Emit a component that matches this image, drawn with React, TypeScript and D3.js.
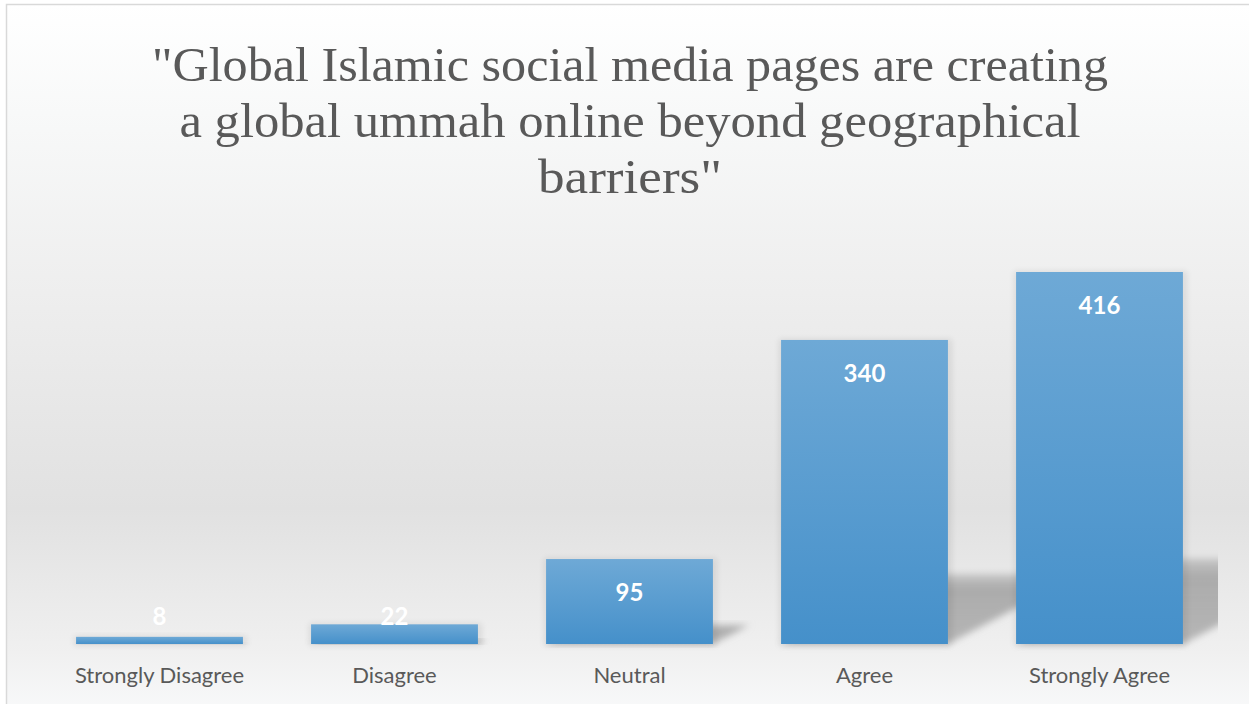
import React from "react";
import * as d3 from "d3";

const categories = ["Strongly Disagree", "Disagree", "Neutral", "Agree", "Strongly Agree"];
const values = [8, 22, 95, 340, 416];
const titleLines = [
  "\"Global Islamic social media pages are creating",
  "a global ummah online beyond geographical",
  "barriers\"",
];
const titleWidths = [956, 901, 184];

const W = 1249;
const H = 704;

export default function App() {
  const x = d3.scaleBand<string>().domain(categories).range([42, 1217]).paddingInner(0.29).paddingOuter(0.145);
  const y = d3.scaleLinear().domain([0, 450]).range([644, 241.6]);
  const base = y(0);

  return (
    <div style={{ position: "absolute", left: 0, top: 0 }}>
      <svg width={W} height={H} style={{ display: "block" }}>
        <defs>
          <linearGradient id="bg" x1="0" y1="0" x2="0" y2="1">
            <stop offset="0" stopColor="#ffffff" />
            <stop offset="0.15" stopColor="#f8f9f9" />
            <stop offset="0.4" stopColor="#eeeeee" />
            <stop offset="0.7" stopColor="#e1e1e1" />
            <stop offset="0.9" stopColor="#f0f0f0" />
            <stop offset="1" stopColor="#fafbfc" />
          </linearGradient>
          <linearGradient id="bar" x1="0" y1="0" x2="0" y2="1">
            <stop offset="0" stopColor="#6ea9d6" />
            <stop offset="1" stopColor="#4590ca" />
          </linearGradient>
          <linearGradient id="shd" x1="0" y1="0" x2="0" y2="1">
            <stop offset="0" stopColor="#b0b0b0" stopOpacity="0.6" />
            <stop offset="0.2" stopColor="#a8a8a8" stopOpacity="0.95" />
            <stop offset="1" stopColor="#acacac" stopOpacity="0.85" />
          </linearGradient>
          <filter id="blur" x="-20%" y="-20%" width="140%" height="140%">
            <feGaussianBlur stdDeviation="3.5" />
          </filter>
          <filter id="glow" x="-10%" y="-30%" width="120%" height="160%">
            <feGaussianBlur stdDeviation="3" />
          </filter>
          <clipPath id="plotClip">
            <rect x={0} y={0} width={1218} height={H} />
          </clipPath>
        </defs>
        <rect x={6.5} y={4.5} width={1260} height={720} fill="url(#bg)" stroke="#d9d9d9" strokeWidth={1.5} />

        <g fontFamily="'Liberation Serif', serif" fill="#595959" fontSize={48} textAnchor="middle">
          {titleLines.map((t, i) => (
            <text key={i} x={630} y={81 + i * 56} textLength={titleWidths[i]} lengthAdjust="spacingAndGlyphs">
              {t}
            </text>
          ))}
        </g>

        <g clipPath="url(#plotClip)">
          {values.map((v, i) => {
            const x0 = x(categories[i])!;
            const x1 = x0 + x.bandwidth();
            const h = base - y(v);
            const sh = h * 0.23;
            const dx = sh * 1.9;
            const pts = [
              [x0, base],
              [x1, base],
              [x1 + dx, base - sh],
              [x0 + dx, base - sh],
            ];
            return (
              <polygon
                key={"s" + i}
                points={pts.map((p) => p.join(",")).join(" ")}
                fill="url(#shd)"
                filter="url(#blur)"
              />
            );
          })}
        </g>

        {values.map((v, i) => {
          const x0 = x(categories[i])!;
          return (
            <rect
              key={"g" + i}
              x={x0 - 2}
              y={y(v) - 1}
              width={x.bandwidth() + 6}
              height={base - y(v) + 3}
              fill="#000"
              opacity={0.08}
              filter="url(#glow)"
            />
          );
        })}

        {values.map((v, i) => (
          <rect
            key={"b" + i}
            x={x(categories[i])!}
            y={y(v)}
            width={x.bandwidth()}
            height={base - y(v)}
            fill="url(#bar)"
          />
        ))}

        <g fontFamily="Lato, sans-serif" fontWeight="bold" fontSize={24} fill="#ffffff" textAnchor="middle">
          {values.map((v, i) => (
            <text key={"l" + i} x={x(categories[i])! + x.bandwidth() / 2} y={Math.min(y(v) + 42, base - 19)}>
              {v}
            </text>
          ))}
        </g>

        <g fontFamily="Lato, sans-serif" fontSize={22} fill="#595959" textAnchor="middle">
          {categories.map((c) => (
            <text key={c} x={x(c)! + x.bandwidth() / 2} y={683}>
              {c}
            </text>
          ))}
        </g>
      </svg>
    </div>
  );
}
